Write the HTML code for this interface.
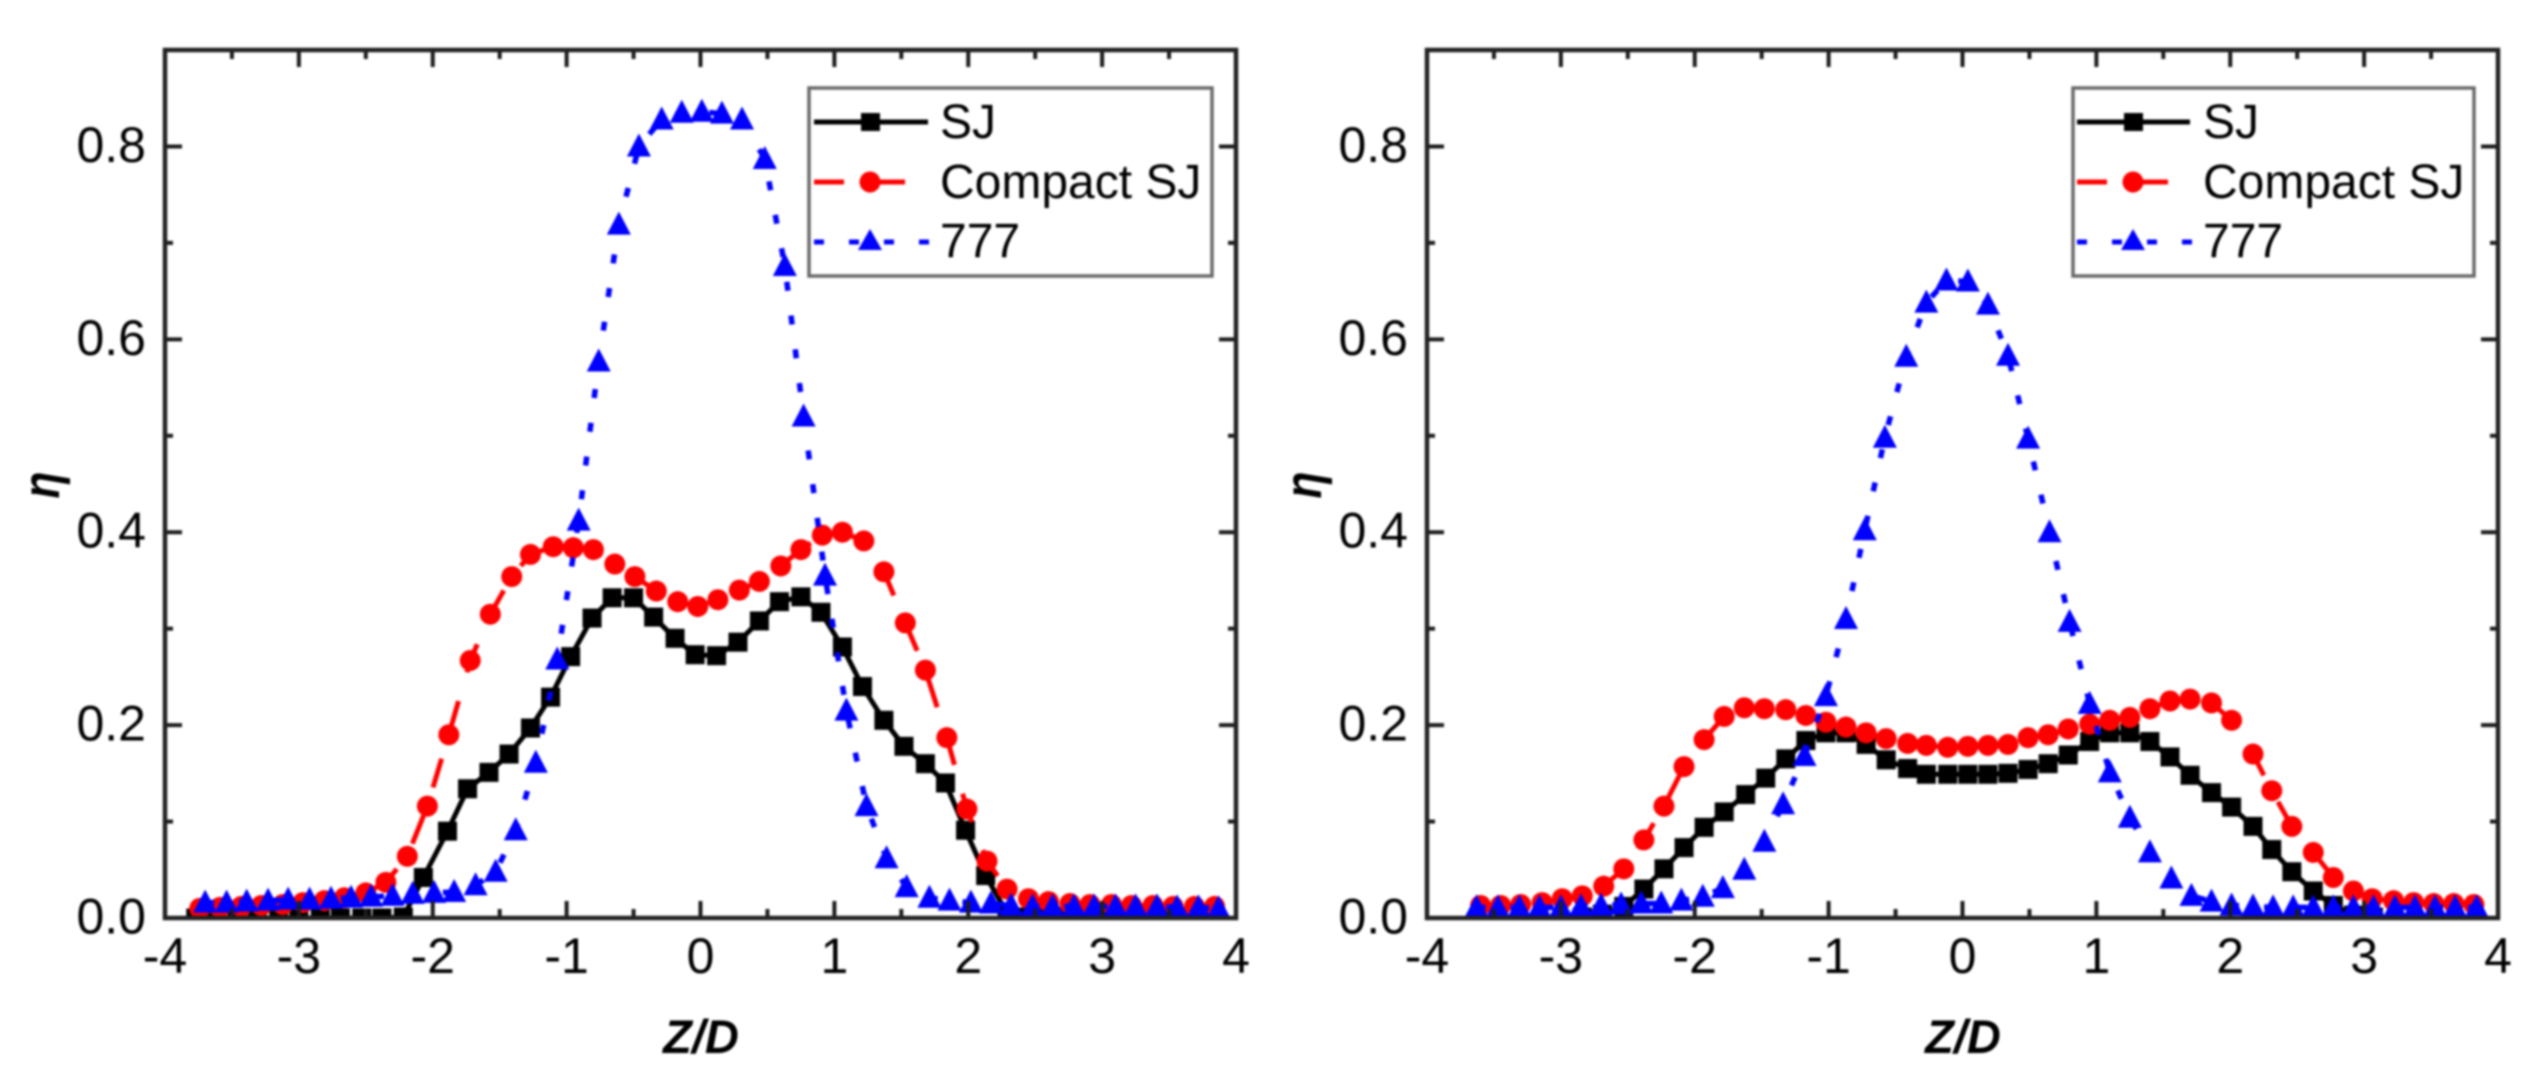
<!DOCTYPE html>
<html lang="en">
<head>
<meta charset="utf-8">
<title>Z/D charts</title>
<style>
html,body{margin:0;padding:0;background:#fff;}
body{width:2540px;height:1091px;overflow:hidden;}
svg{display:block;filter:blur(1px);}
text{font-family:"Liberation Sans",sans-serif;fill:#000;}
.tick{font-size:50px;}
.leg{font-size:48px;}
.title{font-size:47px;font-weight:bold;font-style:italic;}
.eta{font-size:52px;font-weight:bold;font-style:italic;}
</style>
</head>
<body>
<svg id="fig" xmlns="http://www.w3.org/2000/svg" width="2540" height="1091" viewBox="0 0 2540 1091">
  <defs>
    <clipPath id="clip-left"><rect x="165" y="50" width="1071" height="868"/></clipPath>
    <clipPath id="clip-right"><rect x="1427" y="50" width="1071" height="868"/></clipPath>
  </defs>
  <rect width="2540" height="1091" fill="#fff"/>

  <g id="left-plot">
    <text class="title" x="701" y="1053" text-anchor="middle">Z/D</text>
    <text class="eta" transform="translate(59,485) rotate(-90) scale(0.85,1)" text-anchor="middle">η</text>
  </g>
  <g id="right-plot">
    <text class="title" x="1963" y="1053" text-anchor="middle">Z/D</text>
    <text class="eta" transform="translate(1321,485) rotate(-90) scale(0.85,1)" text-anchor="middle">η</text>
  </g>

  <g id="legends">
  <g>
    <rect x="809" y="88" width="403" height="188" fill="#fff" stroke="#6a6a6a" stroke-width="3.5"/>
    <line x1="814" x2="928" y1="122" y2="122" stroke="#000" stroke-width="5"/>
    <rect x="861" y="113" width="19" height="18" fill="#000"/>
    <text class="leg" x="940" y="138">SJ</text>
    <line x1="814" x2="905" y1="182" y2="182" stroke="#f00" stroke-width="5" stroke-dasharray="30 16 45"/>
    <circle cx="870" cy="182" r="10.5" fill="#f00"/>
    <text class="leg" x="940" y="198">Compact SJ</text>
    <line x1="814" x2="930" y1="242" y2="242" stroke="#00f" stroke-width="5" stroke-dasharray="10 25"/>
    <polygon points="870,229 858,250 882,250" fill="#00f"/>
    <text class="leg" x="940" y="257">777</text>
  </g>

  <g>
    <rect x="2073" y="88" width="401" height="188" fill="#fff" stroke="#6a6a6a" stroke-width="3.5"/>
    <line x1="2077" x2="2190" y1="122" y2="122" stroke="#000" stroke-width="5"/>
    <rect x="2124" y="113" width="19" height="18" fill="#000"/>
    <text class="leg" x="2203" y="138">SJ</text>
    <line x1="2077" x2="2168" y1="182" y2="182" stroke="#f00" stroke-width="5" stroke-dasharray="30 16 45"/>
    <circle cx="2133" cy="182" r="10.5" fill="#f00"/>
    <text class="leg" x="2203" y="198">Compact SJ</text>
    <line x1="2077" x2="2193" y1="242" y2="242" stroke="#00f" stroke-width="5" stroke-dasharray="10 25"/>
    <polygon points="2133,229 2121,250 2145,250" fill="#00f"/>
    <text class="leg" x="2203" y="257">777</text>
  </g>
  </g>
</svg>

<script>
// Shared tick values
const xMajorTicks = [-4, -3, -2, -1, 0, 1, 2, 3, 4];
const xMinorTicks = [-3.5, -2.5, -1.5, -0.5, 0.5, 1.5, 2.5, 3.5];
const yMajorTicks = [0, 0.2, 0.4, 0.6, 0.8];
const yMinorTicks = [0.1, 0.3, 0.5, 0.7];
const xTickLabels = ['-4', '-3', '-2', '-1', '0', '1', '2', '3', '4'];
const yTickLabels = ['0.0', '0.2', '0.4', '0.6', '0.8'];

// Left chart: SJ
const leftSjZ = [-3.77,-3.62,-3.46,-3.31,-3.15,-3,-2.84,-2.69,-2.53,-2.38,-2.22,-2.07,-1.89,-1.74,-1.58,-1.43,-1.27,-1.12,-0.97,-0.81,-0.66,-0.5,-0.35,-0.19,-0.04,0.12,0.28,0.44,0.59,0.75,0.9,1.06,1.21,1.37,1.52,1.68,1.83,1.98,2.13,2.29,2.44,2.6,2.75,2.9,3.06,3.21,3.36,3.52,3.67,3.83];
const leftSjEta = [0,0,0,0,0,0,0,0,0,0,0.001,0.042,0.09,0.134,0.151,0.17,0.197,0.229,0.271,0.311,0.332,0.332,0.312,0.29,0.273,0.272,0.286,0.308,0.328,0.333,0.317,0.281,0.24,0.205,0.178,0.16,0.14,0.091,0.044,0.005,0.001,0.001,0.001,0.001,0.001,0.001,0.001,0.001,0.001,0.001];

// Left chart: Compact SJ
const leftCompactZ = [-3.74,-3.59,-3.43,-3.28,-3.12,-2.97,-2.81,-2.66,-2.5,-2.35,-2.19,-2.04,-1.88,-1.72,-1.57,-1.41,-1.27,-1.1,-0.95,-0.8,-0.64,-0.49,-0.33,-0.17,-0.02,0.13,0.29,0.44,0.6,0.75,0.91,1.06,1.22,1.37,1.53,1.68,1.84,1.99,2.14,2.29,2.45,2.6,2.76,2.91,3.07,3.22,3.38,3.53,3.69,3.84];
const leftCompactEta = [0.01,0.011,0.012,0.013,0.014,0.016,0.018,0.021,0.026,0.037,0.064,0.116,0.19,0.267,0.315,0.354,0.377,0.385,0.384,0.382,0.367,0.354,0.339,0.328,0.323,0.33,0.34,0.349,0.365,0.382,0.397,0.4,0.391,0.359,0.306,0.257,0.187,0.113,0.059,0.03,0.02,0.017,0.015,0.014,0.014,0.013,0.013,0.012,0.012,0.012];

// Left chart: 777
const left777Z = [-3.7,-3.54,-3.39,-3.23,-3.08,-2.92,-2.76,-2.61,-2.46,-2.3,-2.15,-1.99,-1.84,-1.68,-1.53,-1.38,-1.23,-1.07,-0.91,-0.76,-0.61,-0.46,-0.29,-0.14,0.01,0.16,0.31,0.48,0.63,0.77,0.93,1.09,1.24,1.39,1.54,1.71,1.86,2.02,2.17,2.32,2.48,2.63,2.79,2.94,3.1,3.25,3.41,3.56,3.72,3.87];
const left777Eta = [0.016,0.016,0.017,0.018,0.019,0.019,0.02,0.021,0.022,0.023,0.025,0.026,0.027,0.034,0.048,0.091,0.161,0.268,0.412,0.577,0.719,0.8,0.828,0.835,0.836,0.834,0.828,0.787,0.676,0.52,0.355,0.215,0.116,0.062,0.032,0.021,0.018,0.016,0.015,0.013,0.012,0.012,0.012,0.012,0.012,0.012,0.012,0.011,0.011,0.01];

// Right chart: SJ
const rightSjZ = [-2.84,-2.69,-2.53,-2.38,-2.23,-2.08,-1.93,-1.78,-1.62,-1.47,-1.32,-1.17,-1.02,-0.87,-0.72,-0.57,-0.41,-0.27,-0.11,0.04,0.19,0.34,0.49,0.64,0.79,0.95,1.1,1.25,1.4,1.55,1.7,1.86,2.01,2.17,2.31,2.46,2.62,2.77,2.92,3.07];
const rightSjEta = [0.001,0.004,0.012,0.03,0.051,0.073,0.094,0.11,0.128,0.145,0.165,0.184,0.192,0.192,0.18,0.164,0.155,0.149,0.149,0.149,0.149,0.15,0.154,0.16,0.169,0.183,0.192,0.192,0.183,0.167,0.148,0.13,0.115,0.095,0.071,0.048,0.028,0.013,0.003,0.001];

// Right chart: Compact SJ
const rightCompactZ = [-3.6,-3.45,-3.3,-3.14,-2.99,-2.84,-2.68,-2.53,-2.38,-2.23,-2.08,-1.93,-1.78,-1.63,-1.48,-1.32,-1.17,-1.02,-0.87,-0.72,-0.57,-0.41,-0.27,-0.11,0.04,0.19,0.34,0.49,0.64,0.79,0.95,1.1,1.25,1.4,1.55,1.7,1.86,2.01,2.17,2.31,2.46,2.62,2.77,2.92,3.06,3.22,3.37,3.52,3.67,3.82];
const rightCompactEta = [0.013,0.013,0.014,0.016,0.02,0.023,0.033,0.051,0.081,0.116,0.157,0.185,0.209,0.218,0.217,0.216,0.21,0.203,0.198,0.192,0.186,0.181,0.179,0.177,0.178,0.179,0.18,0.187,0.19,0.196,0.201,0.205,0.208,0.217,0.225,0.227,0.223,0.205,0.17,0.132,0.095,0.068,0.042,0.028,0.02,0.018,0.016,0.015,0.015,0.014];

// Right chart: 777
const right777Z = [-3.63,-3.47,-3.31,-3.16,-3,-2.85,-2.7,-2.55,-2.4,-2.25,-2.1,-1.94,-1.79,-1.63,-1.48,-1.34,-1.18,-1.02,-0.87,-0.73,-0.58,-0.42,-0.27,-0.12,0.04,0.19,0.34,0.49,0.65,0.8,0.95,1.1,1.25,1.4,1.56,1.71,1.86,2.01,2.17,2.32,2.47,2.62,2.77,2.92,3.07,3.23,3.38,3.53,3.68,3.84];
const right777Eta = [0.011,0.011,0.011,0.011,0.011,0.012,0.013,0.014,0.015,0.015,0.018,0.022,0.031,0.05,0.079,0.118,0.168,0.23,0.31,0.402,0.498,0.582,0.638,0.661,0.66,0.636,0.583,0.497,0.4,0.307,0.222,0.151,0.104,0.068,0.041,0.023,0.017,0.013,0.012,0.011,0.011,0.011,0.011,0.011,0.011,0.011,0.011,0.011,0.011,0.011];

const SVG_NS = 'http://www.w3.org/2000/svg';
const plotTop = 50;
const plotBottom = 918;
const plotWidth = 1071;

function makeAxes(plotLeft) {
  return {
    x: function (v) { return plotLeft + (v + 4) / 8 * plotWidth; },
    y: function (v) { return plotBottom - v / 0.9 * (plotBottom - plotTop); }
  };
}

function svgEl(tag, parent) {
  const el = document.createElementNS(SVG_NS, tag);
  parent.appendChild(el);
  return el;
}

function tickLine(parent, x1, y1, x2, y2) {
  const l = svgEl('line', parent);
  
  
  l.setAttribute('x1', x1);
  l.setAttribute('y1', y1);
  l.setAttribute('x2', x2);
  l.setAttribute('y2', y2);
  l.setAttribute('stroke', '#1c1c1c');
  l.setAttribute('stroke-width', '4');
}

function drawFrame(g, plotLeft, ax) {
  const right = plotLeft + plotWidth;
  xMajorTicks.forEach(function (v, i) {
    const px = ax.x(v);
    if (i > 0 && i < xMajorTicks.length - 1) {
      tickLine(g, px, plotBottom, px, plotBottom - 17);
      tickLine(g, px, plotTop, px, plotTop + 17);
    }
    const t = svgEl('text', g);
    
    
    t.setAttribute('class', 'tick');
    t.setAttribute('x', px);
    t.setAttribute('y', 973);
    t.setAttribute('text-anchor', 'middle');
    t.textContent = xTickLabels[i];
  });
  xMinorTicks.forEach(function (v) {
    const px = ax.x(v);
    tickLine(g, px, plotBottom, px, plotBottom - 9);
    tickLine(g, px, plotTop, px, plotTop + 9);
  });
  yMajorTicks.forEach(function (v, i) {
    const py = ax.y(v);
    if (i > 0) {
      tickLine(g, plotLeft, py, plotLeft + 17, py);
      tickLine(g, right, py, right - 17, py);
    }
    const t = svgEl('text', g);
    
    
    t.setAttribute('class', 'tick');
    t.setAttribute('x', plotLeft - 19);
    t.setAttribute('y', py + 15.5);
    t.setAttribute('text-anchor', 'end');
    t.textContent = yTickLabels[i];
  });
  yMinorTicks.forEach(function (v) {
    const py = ax.y(v);
    tickLine(g, plotLeft, py, plotLeft + 8, py);
    tickLine(g, right, py, right - 8, py);
  });
  const frame = svgEl('rect', g);
  
  
  frame.setAttribute('x', plotLeft);
  frame.setAttribute('y', plotTop);
  frame.setAttribute('width', plotWidth);
  frame.setAttribute('height', plotBottom - plotTop);
  frame.setAttribute('fill', 'none');
  frame.setAttribute('stroke', '#222');
  frame.setAttribute('stroke-width', '4.5');
}

function drawSeries(g, ax, zs, etas, color, dash, kind, seriesName) {
  const line = svgEl('polyline', g);
  
  
  line.setAttribute('points', zs.map(function (z, i) { return ax.x(z) + ',' + ax.y(etas[i]); }).join(' '));
  line.setAttribute('fill', 'none');
  line.setAttribute('stroke', color);
  line.setAttribute('stroke-width', kind === 'triangle' ? '5.5' : '5');
  if (dash) {
    line.setAttribute('stroke-dasharray', dash);
  }
  if (kind === 'circle') {
    line.setAttribute('stroke-dashoffset', '3');
  }
  zs.forEach(function (z, i) {
    const cx = ax.x(z);
    const cy = ax.y(etas[i]);
    let m;
    if (kind === 'square') {
      m = svgEl('rect', g);
      m.setAttribute('x', cx - 9.5);
      m.setAttribute('y', cy - 9.5);
      m.setAttribute('width', 19);
      m.setAttribute('height', 19);
    } else if (kind === 'circle') {
      m = svgEl('circle', g);
      m.setAttribute('cx', cx);
      m.setAttribute('cy', cy);
      m.setAttribute('r', 10.5);
    } else {
      m = svgEl('polygon', g);
      m.setAttribute('points', cx + ',' + (cy - 13) + ' ' + (cx - 12) + ',' + (cy + 10) + ' ' + (cx + 12) + ',' + (cy + 10));
    }
    
    
    m.setAttribute('fill', color);
  });
}

function drawChart(groupId, clipId, plotLeft, sets, prefix) {
  const g = document.getElementById(groupId);
  const ax = makeAxes(plotLeft);
  const marks = svgEl('g', g);
  
  
  marks.setAttribute('clip-path', 'url(#' + clipId + ')');
  drawSeries(marks, ax, sets.sjZ, sets.sjEta, '#000', null, 'square', prefix + '-sj');
  drawSeries(marks, ax, sets.cZ, sets.cEta, '#f00', '30 30', 'circle', prefix + '-compact-sj');
  drawSeries(marks, ax, sets.bZ, sets.bEta, '#00f', '9 25', 'triangle', prefix + '-777');
  drawFrame(g, plotLeft, ax);
}

drawChart('left-plot', 'clip-left', 165, { sjZ: leftSjZ, sjEta: leftSjEta, cZ: leftCompactZ, cEta: leftCompactEta, bZ: left777Z, bEta: left777Eta }, 'left');
drawChart('right-plot', 'clip-right', 1427, { sjZ: rightSjZ, sjEta: rightSjEta, cZ: rightCompactZ, cEta: rightCompactEta, bZ: right777Z, bEta: right777Eta }, 'right');

// Keep the legends above the plot frames and series.
const legends = document.getElementById('legends');
legends.parentNode.appendChild(legends);
</script>
</body>
</html>
